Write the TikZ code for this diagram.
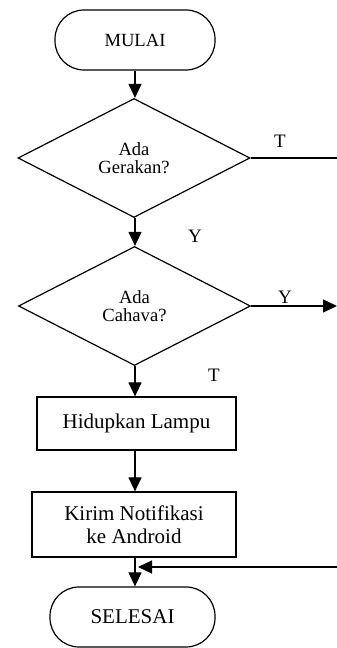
\documentclass[tikz,border=0pt]{standalone}
\usepackage{fontspec}
\setmainfont{Liberation Serif}
\usetikzlibrary{shapes.geometric,arrows.meta}
\begin{document}
\begin{tikzpicture}[x=1pt,y=1pt,
  base/.style={draw=black,line width=1.2pt,inner sep=0pt,align=center},
  term/.style={base,rectangle,rounded corners=29pt,font=\fontsize{18.6}{20}\selectfont},
  dec/.style={base,diamond,minimum width=232pt,minimum height=119pt,font=\fontsize{18.6}{18.5}\selectfont},
  proc/.style={base,rectangle,font=\fontsize{21}{23}\selectfont},
  lbl/.style={font=\fontsize{19}{20}\selectfont,inner sep=0pt},
  conn/.style={line width=1.2pt},
  arr/.style={conn,-{Triangle[width=13pt,length=14pt]}}]
\useasboundingbox (0,0) rectangle (337,648);
\node[term,minimum width=160pt,minimum height=60pt] (mulai) at (135,608) {MULAI};
\node[dec] (d1) at (134,490) {Ada\\Gerakan?};
\node[dec] (d2) at (134.5,342) {Ada\\Cahava?};
\node[proc,minimum width=199pt,minimum height=53pt] (lampu) at (136.5,224.5) {Hidupkan Lampu};
\node[proc,minimum width=204pt,minimum height=65pt] (kirim) at (134,123.5) {Kirim Notifikasi\\ke Android};
\node[term,minimum width=165pt,minimum height=60pt,font=\fontsize{21}{23}\selectfont] (selesai) at (132.5,31) {SELESAI};
\coordinate (tend) at (337,490);
\coordinate (yend) at (337,342);
\coordinate (rstart) at (337,81);
\coordinate (rend) at (138,81);
\node[lbl] (t1) at (280,507) {T};
\node[lbl] (y1) at (195,412) {Y};
\node[lbl] (y2) at (285,351) {Y};
\node[lbl] (t2) at (214,273) {T};
\draw[arr] (mulai.south -| 135,0) -- (135,0 |- d1.north);
\draw[arr] (d1.south -| 135,0) -- (135,0 |- d2.north);
\draw[arr] (d2.south -| 135,0) -- (135,0 |- lampu.north);
\draw[arr] (lampu.south -| 135,0) -- (135,0 |- kirim.north);
\draw[arr] (kirim.south -| 135,0) -- (135,0 |- selesai.north);
\draw[conn] (d1.east) -- (tend);
\draw[arr] (d2.east) -- (yend);
\draw[arr] (rstart) -- (rend);
\end{tikzpicture}
\end{document}
